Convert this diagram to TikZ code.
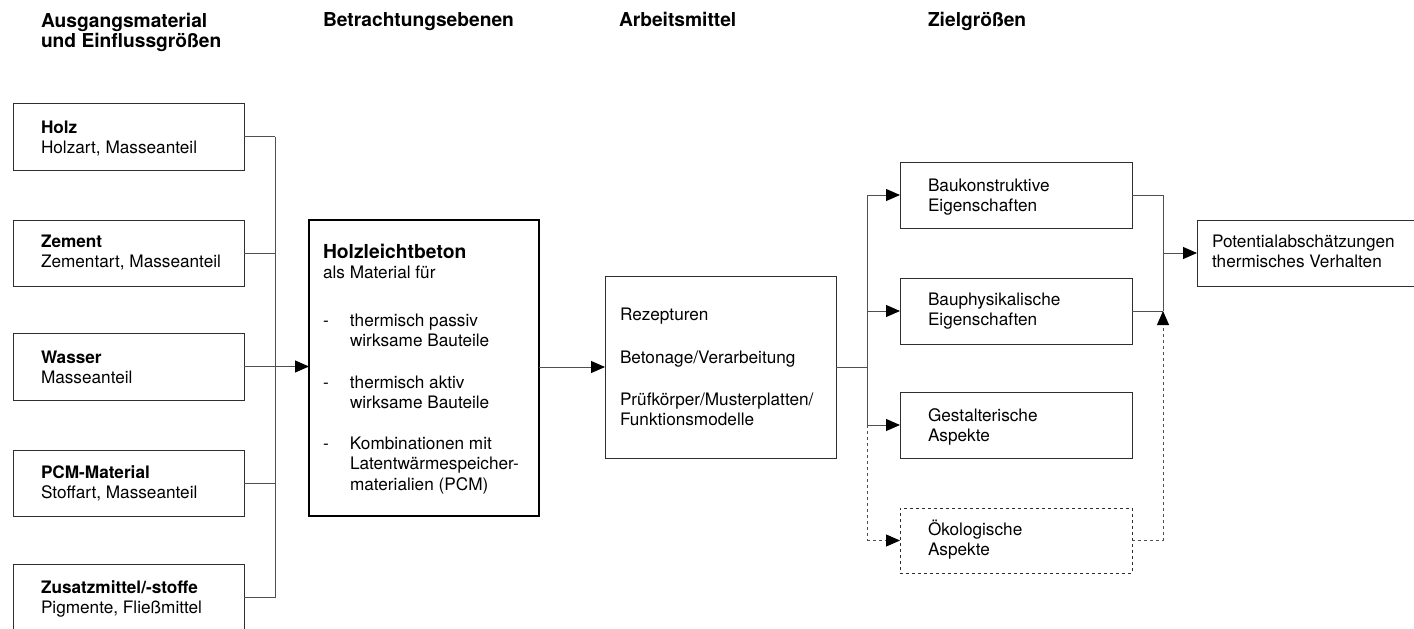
\documentclass[tikz,border=0pt]{standalone}
\usepackage{fontspec}
\setmainfont{TeX Gyre Heros}
\usetikzlibrary{arrows.meta}
\definecolor{boxc}{HTML}{2E2E2E}
\definecolor{linec}{HTML}{505050}
\newcommand\fsn{\fontsize{17.2pt}{20.5pt}\selectfont}
\newcommand\fsbig{\fontsize{19.3pt}{20.5pt}\selectfont\bfseries}
\newcommand\fshdr{\fontsize{19.2pt}{20pt}\selectfont\bfseries}
\newcommand\st{\rule{0pt}{18pt}}
\tikzset{
  box/.style={draw=boxc, line width=1pt, anchor=north west, inner sep=0pt, outer sep=0pt},
  mainbox/.style={box, draw=black, line width=2pt},
  dotbox/.style={box, dash pattern=on 3pt off 3pt},
  txt/.style={anchor=north west, inner sep=0pt, outer sep=0pt, align=left, font=\fsn},
  hdr/.style={txt, font=\fshdr},
  conn/.style={draw=linec, line width=1pt},
  arr/.style={conn, -{Triangle[length=14pt,width=12pt,color=black]}},
  dotconn/.style={conn, dash pattern=on 3pt off 3pt},
  dotarr/.style={arr, dash pattern=on 3pt off 3pt},
}
\begin{document}
\begin{tikzpicture}[x=1pt,y=-1pt]
\useasboundingbox (0,0) rectangle (1414,629);
% headers
\node[hdr] (h1) at (41,9) {\st Ausgangsmaterial\\und Einflussgrößen};
\node[hdr] (h2) at (323,9) {\st Betrachtungsebenen};
\node[hdr] (h3) at (619,9) {\st Arbeitsmittel};
\node[hdr] (h4) at (928,9) {\st Zielgrößen};
% left boxes
\node[box, minimum width=231pt, minimum height=67pt] (holz) at (13,103) {};
\node[box, minimum width=231pt, minimum height=66pt] (zement) at (13,220) {};
\node[box, minimum width=231pt, minimum height=67pt] (wasser) at (13,333) {};
\node[box, minimum width=231pt, minimum height=66pt] (pcm) at (13,450) {};
\node[box, minimum width=231pt, minimum height=67pt] (zusatz) at (13,564) {};
\node[txt] (tholz) at (41,115) {\st\textbf{Holz}\\Holzart, Masseanteil};
\node[txt] (tzement) at (41,229) {\st\textbf{Zement}\\Zementart, Masseanteil};
\node[txt] (twasser) at (41,345) {\st\textbf{Wasser}\\Masseanteil};
\node[txt] (tpcm) at (41,460) {\st\textbf{PCM-Material}\\Stoffart, Masseanteil};
\node[txt] (tzusatz) at (41,575) {\st\textbf{Zusatzmittel/-stoffe}\\Pigmente, Fließmittel};
% main box
\node[mainbox, minimum width=230pt, minimum height=296pt] (hlb) at (309,220) {};
\node[txt] (thlb1) at (323,240) {\st{\fsbig Holzleichtbeton}\\als Material für};
\node[txt] (thlb2) at (323,308) {\st\makebox[27pt][l]{-}thermisch passiv\\\hspace*{27pt}wirksame Bauteile};
\node[txt] (thlb3) at (323,370) {\st\makebox[27pt][l]{-}thermisch aktiv\\\hspace*{27pt}wirksame Bauteile};
\node[txt] (thlb4) at (323,431) {\st\makebox[27pt][l]{-}Kombinationen mit\\\hspace*{27pt}Latentwärmespeicher-\\\hspace*{27pt}materialien (PCM)};
% Arbeitsmittel
\node[box, minimum width=231pt, minimum height=182pt] (arb) at (605,276) {};
\node[txt] (tarb1) at (620,302) {\st Rezepturen};
\node[txt] (tarb2) at (620,345) {\st Betonage/Verarbeitung};
\node[txt] (tarb3) at (620,387) {\st Prüfkörper/Musterplatten/\\Funktionsmodelle};
% right boxes
\node[box, minimum width=232pt, minimum height=66pt] (bauk) at (900,162) {};
\node[box, minimum width=232pt, minimum height=66pt] (bauph) at (900,278) {};
\node[box, minimum width=232pt, minimum height=66pt] (gest) at (900,392) {};
\node[dotbox, minimum width=232pt, minimum height=65pt] (oeko) at (900,508) {};
\node[txt] (tbauk) at (928,173) {\st Baukonstruktive\\Eigenschaften};
\node[txt] (tbauph) at (928,287) {\st Bauphysikalische\\Eigenschaften};
\node[txt] (tgest) at (928,403) {\st Gestalterische\\Aspekte};
\node[txt] (toeko) at (928,517) {\st Ökologische\\Aspekte};
% final box
\node[box, minimum width=230pt, minimum height=66pt] (pot) at (1197,220) {};
\node[txt] (tpot) at (1212,229) {\st Potentialabschätzungen\\thermisches Verhalten};
% bracket coordinates
\coordinate (bx1) at (275,0);
\coordinate (bx2) at (867,0);
\coordinate (bx3) at (1163,0);
% left bracket
\draw[conn] (holz.east) -- (holz.east -| bx1);
\draw[conn] (zement.east) -- (zement.east -| bx1);
\draw[conn] (wasser.east) -- (wasser.east -| bx1);
\draw[conn] (pcm.east) -- (pcm.east -| bx1);
\draw[conn] (zusatz.east) -- (zusatz.east -| bx1);
\draw[conn] (holz.east -| bx1) -- (zusatz.east -| bx1);
\draw[arr] (wasser.east -| bx1) -- (wasser.east -| hlb.west);
% hlb to arb
\draw[arr] (arb.west -| hlb.east) -- (arb.west);
% arb to targets
\draw[conn] (arb.east) -- (arb.east -| bx2);
\draw[conn] (bauk.west -| bx2) -- (gest.west -| bx2);
\draw[arr] (bauk.west -| bx2) -- (bauk.west);
\draw[arr] (bauph.west -| bx2) -- (bauph.west);
\draw[arr] (gest.west -| bx2) -- (gest.west);
\draw[dotconn] (gest.west -| bx2) -- (oeko.west -| bx2);
\draw[dotarr] (oeko.west -| bx2) -- (oeko.west);
% right bracket
\draw[conn] (bauk.east) -- (bauk.east -| bx3);
\draw[conn] (bauph.east) -- (bauph.east -| bx3);
\draw[conn] (bauk.east -| bx3) -- (bauph.east -| bx3);
\draw[arr] (pot.west -| bx3) -- (pot.west);
\draw[dotconn] (oeko.east) -- (oeko.east -| bx3);
\draw[dotarr] (oeko.east -| bx3) -- (bauph.east -| bx3);
\end{tikzpicture}
\end{document}
